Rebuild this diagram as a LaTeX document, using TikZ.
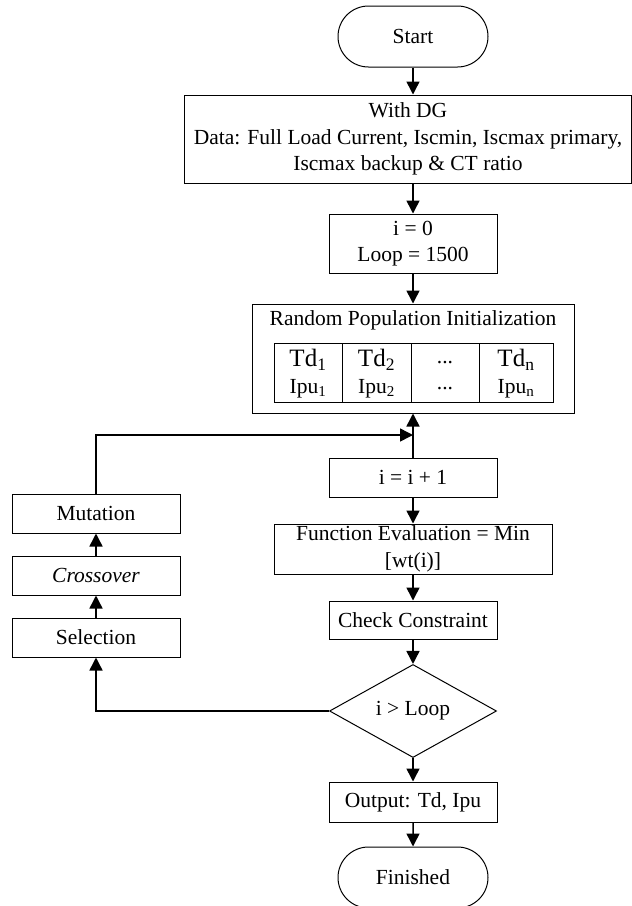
\documentclass[tikz,border=0pt]{standalone}
\usepackage{fontspec}
\setmainfont{Liberation Serif}
\usetikzlibrary{shapes.geometric,shapes.misc,arrows.meta}
\begin{document}
\begin{tikzpicture}[x=1pt,y=1pt,
  font=\fontsize{21.5}{26.5}\selectfont,
  box/.style={draw,line width=1pt,rectangle,inner sep=0pt,align=center},
  term/.style={draw,line width=1pt,rounded rectangle,inner sep=0pt,minimum width=150pt,minimum height=61pt},
  dec/.style={draw,line width=1pt,diamond,inner sep=0pt,minimum width=167pt,minimum height=88pt},
  cell/.style={inner sep=0pt,anchor=center},
  arr/.style={line width=1.5pt,-{Triangle[length=13pt,width=13pt]}},
  ln/.style={line width=1.5pt}]
\useasboundingbox (0,0) rectangle (632,-906);
\node[term] (start) at (413,-36.5) {Start};
\node[box,minimum width=447pt,minimum height=88pt] (dg) at (408,-139) {With DG\\Data: Full Load Current, Iscmin, Iscmax primary,\\Iscmax backup \& CT ratio};
\node[box,minimum width=168pt,minimum height=59pt] (init) at (413,-243.5) {i = 0\\Loop = 1500};
\node[box,minimum width=322pt,minimum height=109pt] (pop) at (413,-358.5) {};
\node[cell] (poptitle) at (413,-320) {Random Population Initialization};
\node[box,minimum width=279pt,minimum height=59pt] (tab) at (413.5,-372.5) {};
\draw[line width=1pt] (342,-343) -- (342,-402) (411,-343) -- (411,-402) (479,-343) -- (479,-402);
\node[cell,font=\fontsize{25}{26}\selectfont] (td1) at (308,-360) {Td\textsubscript{1}};
\node[cell,font=\fontsize{25}{26}\selectfont] (td2) at (376.5,-360) {Td\textsubscript{2}};
\node[cell] (tdd) at (445,-363) {...};
\node[cell,font=\fontsize{25}{26}\selectfont] (tdn) at (516,-360) {Td\textsubscript{n}};
\node[cell] (ip1) at (308,-389) {Ipu\textsubscript{1}};
\node[cell] (ip2) at (376.5,-389) {Ipu\textsubscript{2}};
\node[cell] (ipd) at (445,-389) {...};
\node[cell] (ipn) at (516,-389) {Ipu\textsubscript{n}};
\node[box,minimum width=168pt,minimum height=39pt] (inc) at (413,-477.5) {i = i + 1};
\node[box,minimum width=278pt,minimum height=50pt] (feval) at (413,-549) {Function Evaluation = Min\\{[wt(i)]}};
\node[box,minimum width=168pt,minimum height=38pt] (check) at (413,-620) {Check Constraint};
\node[dec] (cond) at (413,-711) {i {\textgreater} Loop};
\node[box,minimum width=168pt,minimum height=40pt] (out) at (413,-802) {Output: Td, Ipu};
\node[term] (fin) at (413,-877.5) {Finished};
\node[box,minimum width=168pt,minimum height=39pt] (mut) at (96,-513.5) {Mutation};
\node[box,minimum width=168pt,minimum height=39pt] (cross) at (96,-575.5) {\textit{Crossover}};
\node[box,minimum width=168pt,minimum height=39pt] (sel) at (96,-637.5) {Selection};
\coordinate (join) at (413,-435);
\draw[arr] (start.south) -- (start.south |- dg.north);
\draw[arr] (dg.south -| init.north) -- (init.north);
\draw[arr] (init) -- (pop);
\draw[arr] (inc) -- (pop);
\draw[arr] (inc) -- (feval);
\draw[arr] (feval) -- (check);
\draw[arr] (check) -- (cond);
\draw[arr] (cond) -- (out);
\draw[arr] (out) -- (fin);
\draw[arr] (sel) -- (cross);
\draw[arr] (cross) -- (mut);
\draw[arr] (mut.north) |- (join);
\draw[arr] (cond.west) -| (sel.south);
\end{tikzpicture}
\end{document}
